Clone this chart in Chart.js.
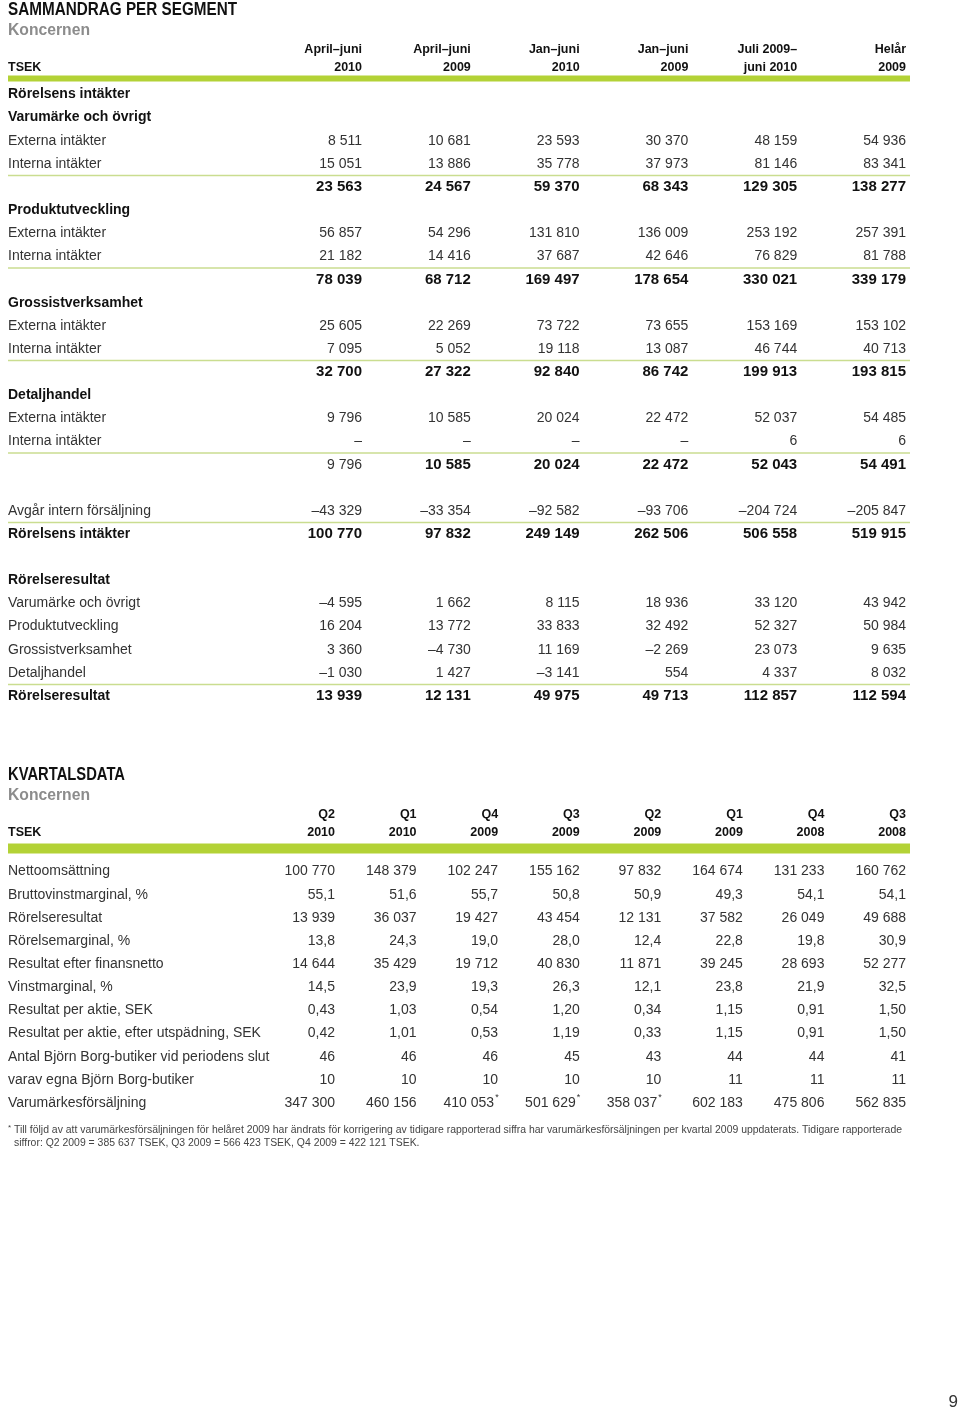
<!DOCTYPE html>
<html>
<head>
<meta charset="utf-8">
<script src="https://cdn.jsdelivr.net/npm/chart.js@4.4.1/dist/chart.umd.min.js"></script>
<style>
  html, body { margin: 0; padding: 0; background: #fff; }
  #page { position: relative; width: 960px; height: 1412px; }
  canvas { position: absolute; left: 0; }
  #segment { top: 0; }
  #quarter { top: 760px; }
</style>
</head>
<body>
<div id="page">
  <canvas id="segment" width="960" height="740"></canvas>
  <canvas id="quarter" width="960" height="652"></canvas>
</div>
<script>
const FONT = "'Liberation Sans', Arial, sans-serif";

// --- Sammandrag per segment ---
const segColumns = [['April–juni', '2010'], ['April–juni', '2009'], ['Jan–juni', '2010'], ['Jan–juni', '2009'], ['Juli 2009–', 'juni 2010'], ['Helår', '2009']];

const varExt = [8511, 10681, 23593, 30370, 48159, 54936];
const varInt = [15051, 13886, 35778, 37973, 81146, 83341];
const varTot = [23563, 24567, 59370, 68343, 129305, 138277];
const prodExt = [56857, 54296, 131810, 136009, 253192, 257391];
const prodInt = [21182, 14416, 37687, 42646, 76829, 81788];
const prodTot = [78039, 68712, 169497, 178654, 330021, 339179];
const grosExt = [25605, 22269, 73722, 73655, 153169, 153102];
const grosInt = [7095, 5052, 19118, 13087, 46744, 40713];
const grosTot = [32700, 27322, 92840, 86742, 199913, 193815];
const detExt = [9796, 10585, 20024, 22472, 52037, 54485];
const detInt = [null, null, null, null, 6, 6];
const detTot = [9796, 10585, 20024, 22472, 52043, 54491];
const avgarIntern = [-43329, -33354, -92582, -93706, -204724, -205847];
const rorelsensIntakter = [100770, 97832, 249149, 262506, 506558, 519915];
const resVar = [-4595, 1662, 8115, 18936, 33120, 43942];
const resProd = [16204, 13772, 33833, 32492, 52327, 50984];
const resGros = [3360, -4730, 11169, -2269, 23073, 9635];
const resDet = [-1030, 1427, -3141, 554, 4337, 8032];
const resTot = [13939, 12131, 49975, 49713, 112857, 112594];

const segRowLabels = [
  'Rörelsens intäkter', 'Varumärke och övrigt', 'Externa intäkter', 'Interna intäkter', '',
  'Produktutveckling', 'Externa intäkter', 'Interna intäkter', '',
  'Grossistverksamhet', 'Externa intäkter', 'Interna intäkter', '',
  'Detaljhandel', 'Externa intäkter', 'Interna intäkter', '', '',
  'Avgår intern försäljning', 'Rörelsens intäkter', '',
  'Rörelseresultat', 'Varumärke och övrigt', 'Produktutveckling', 'Grossistverksamhet', 'Detaljhandel', 'Rörelseresultat'
];
const segRowValues = [
  null, null, varExt, varInt, varTot,
  null, prodExt, prodInt, prodTot,
  null, grosExt, grosInt, grosTot,
  null, detExt, detInt, detTot, null,
  avgarIntern, rorelsensIntakter, null,
  null, resVar, resProd, resGros, resDet, resTot
];

// --- Kvartalsdata ---
const qColumns = [['Q2', '2010'], ['Q1', '2010'], ['Q4', '2009'], ['Q3', '2009'], ['Q2', '2009'], ['Q1', '2009'], ['Q4', '2008'], ['Q3', '2008']];

const netto = [100770, 148379, 102247, 155162, 97832, 164674, 131233, 160762];
const bruttoMarg = [55.1, 51.6, 55.7, 50.8, 50.9, 49.3, 54.1, 54.1];
const rorRes = [13939, 36037, 19427, 43454, 12131, 37582, 26049, 49688];
const rorMarg = [13.8, 24.3, 19.0, 28.0, 12.4, 22.8, 19.8, 30.9];
const resFinans = [14644, 35429, 19712, 40830, 11871, 39245, 28693, 52277];
const vinstMarg = [14.5, 23.9, 19.3, 26.3, 12.1, 23.8, 21.9, 32.5];
const eps = [0.43, 1.03, 0.54, 1.20, 0.34, 1.15, 0.91, 1.50];
const epsDil = [0.42, 1.01, 0.53, 1.19, 0.33, 1.15, 0.91, 1.50];
const butiker = [46, 46, 46, 45, 43, 44, 44, 41];
const egnaButiker = [10, 10, 10, 10, 10, 11, 11, 11];
const varumarkesFs = [347300, 460156, 410053, 501629, 358037, 602183, 475806, 562835];
const varumarkesFsNote = [false, false, true, true, true, false, false, false];

const qRowLabels = [
  'Nettoomsättning', 'Bruttovinstmarginal, %', 'Rörelseresultat', 'Rörelsemarginal, %',
  'Resultat efter finansnetto', 'Vinstmarginal, %', 'Resultat per aktie, SEK',
  'Resultat per aktie, efter utspädning, SEK', 'Antal Björn Borg-butiker vid periodens slut',
  'varav egna Björn Borg-butiker', 'Varumärkesförsäljning'
];
const qRowValues = [netto, bruttoMarg, rorRes, rorMarg, resFinans, vinstMarg, eps, epsDil, butiker, egnaButiker, varumarkesFs];
const qRowDecimals = [0, 1, 0, 1, 0, 1, 2, 2, 0, 0, 0];

const footnote = [
  'Till följd av att varumärkesförsäljningen för helåret 2009 har ändrats för korrigering av tidigare rapporterad siffra har varumärkesförsäljningen per kvartal 2009 uppdaterats. Tidigare rapporterade',
  'siffror: Q2 2009 = 385 637 TSEK, Q3 2009 = 566 423 TSEK, Q4 2009 = 422 121 TSEK.'
];

function fmt(v, dec) {
  if (v === null || v === undefined) return '–';
  const parts = Math.abs(v).toFixed(dec).split('.');
  const whole = parts[0].replace(/\B(?=(\d{3})+(?!\d))/g, ' ');
  return (v < 0 ? '–' : '') + whole + (parts[1] ? ',' + parts[1] : '');
}

function drawFitted(ctx, text, x, y, font, color, width) {
  ctx.save();
  ctx.font = font;
  ctx.fillStyle = color;
  ctx.textAlign = 'left';
  ctx.textBaseline = 'middle';
  const w = ctx.measureText(text).width;
  ctx.translate(x, y);
  ctx.scale(Math.min(1, width / w), 1);
  ctx.fillText(text, 0, 0);
  ctx.restore();
}

const tablePlugin = {
  id: 'table',
  afterDraw(chart, args, opts) {
    const { ctx, chartArea } = chart;
    const xs = chart.scales.x, ys = chart.scales.y;
    const left = 8, right = 910;
    ctx.save();

    drawFitted(ctx, opts.title, left, opts.titleY, `bold 18px ${FONT}`, '#111', opts.titleWidth);
    drawFitted(ctx, 'Koncernen', left, opts.titleY + 19.5, `bold 17px ${FONT}`, '#8c8c8c', 82);

    const headY = xs.bottom - xs.options.ticks.padding - 9;
    ctx.font = `bold 12.5px ${FONT}`;
    ctx.fillStyle = '#111';
    ctx.textAlign = 'left';
    ctx.textBaseline = 'middle';
    ctx.fillText('TSEK', left, headY);

    ctx.fillStyle = '#b3d236';
    ctx.fillRect(left, chartArea.top - opts.barOffset, right - left, opts.barHeight);

    ctx.strokeStyle = '#cadd90';
    ctx.lineWidth = 1.5;
    opts.rules.forEach(r => {
      const yy = (ys.getPixelForValue(r) + ys.getPixelForValue(r + 1)) / 2;
      ctx.beginPath();
      ctx.moveTo(left, yy);
      ctx.lineTo(right, yy);
      ctx.stroke();
    });

    opts.values.forEach((row, r) => {
      if (!row) return;
      const py = ys.getPixelForValue(r);
      const dec = opts.decimals ? opts.decimals[r] : 0;
      row.forEach((v, c) => {
        const px = xs.getPixelForValue(c);
        const bold = opts.boldRows.includes(r) && !(opts.regularCell && opts.regularCell[0] === r && opts.regularCell[1] === c);
        ctx.font = bold ? `bold 15px ${FONT}` : `14px ${FONT}`;
        ctx.fillStyle = bold ? '#111' : '#333';
        const marked = opts.notes && opts.notes[r] && opts.notes[r][c];
        ctx.textAlign = 'right';
        ctx.fillText(fmt(v, dec), marked ? px - 4 : px, py);
        if (marked) {
          ctx.font = `9px ${FONT}`;
          ctx.textAlign = 'left';
          ctx.fillText('*', px - 3, py - 5);
        }
      });
    });

    if (opts.footnote) {
      ctx.font = `10px ${FONT}`;
      ctx.fillStyle = '#444';
      ctx.textAlign = 'left';
      ctx.textBaseline = 'middle';
      const s = 888 / ctx.measureText(opts.footnote[0]).width;
      ctx.font = `8px ${FONT}`;
      ctx.fillText('*', left, opts.footY - 2);
      ctx.font = `10px ${FONT}`;
      opts.footnote.forEach((line, i) => {
        ctx.save();
        ctx.translate(14, opts.footY + i * 13);
        ctx.scale(s, 1);
        ctx.fillText(line, 0, 0);
        ctx.restore();
      });
      ctx.font = `17px ${FONT}`;
      ctx.fillStyle = '#333';
      ctx.textAlign = 'right';
      ctx.fillText('9', 958, opts.pageY);
    }
    ctx.restore();
  }
};

function makeTable(id, columns, rowLabels, boldLabelRows, cfg) {
  return new Chart(document.getElementById(id), {
    type: 'line',
    data: { datasets: [] },
    options: {
      responsive: false,
      animation: false,
      events: [],
      layout: { autoPadding: false, padding: cfg.padding },
      plugins: {
        legend: { display: false },
        tooltip: { enabled: false },
        table: cfg.table
      },
      scales: {
        x: {
          type: 'category',
          position: 'top',
          labels: columns,
          offset: false,
          grid: { display: false, drawTicks: false },
          border: { display: false },
          ticks: {
            autoSkip: false,
            maxRotation: 0,
            minRotation: 0,
            align: 'end',
            padding: cfg.headPadding,
            color: '#111',
            font: { family: FONT, size: 12.5, weight: 'bold', lineHeight: 18 / 12.5 }
          },
          afterFit: s => { s.height = cfg.headHeight; }
        },
        y: {
          type: 'category',
          position: 'left',
          labels: rowLabels,
          offset: false,
          grid: { display: false, drawTicks: false },
          border: { display: false },
          ticks: {
            autoSkip: false,
            crossAlign: 'far',
            color: c => boldLabelRows.includes(c.index) ? '#111' : '#333',
            font: c => ({ family: FONT, size: 14, weight: boldLabelRows.includes(c.index) ? 'bold' : 'normal' })
          },
          afterFit: s => { s.width = cfg.labelWidth; }
        }
      }
    },
    plugins: [tablePlugin]
  });
}

makeTable('segment', segColumns, segRowLabels, [0, 1, 5, 9, 13, 19, 21, 26], {
  padding: { top: 41, left: 8, right: 54, bottom: 44 },
  headHeight: 53.5,
  headPadding: 18,
  labelWidth: 354,
  table: {
    title: 'SAMMANDRAG PER SEGMENT',
    titleWidth: 229,
    titleY: 10.5,
    values: segRowValues,
    boldRows: [4, 8, 12, 16, 19, 26],
    regularCell: [16, 0],
    rules: [3, 7, 11, 15, 18, 25],
    barOffset: 19,
    barHeight: 6
  }
});

makeTable('quarter', qColumns, qRowLabels, [], {
  padding: { top: 46, left: 8, right: 54, bottom: 309 },
  headHeight: 65.5,
  headPadding: 30,
  labelWidth: 327,
  table: {
    title: 'KVARTALSDATA',
    titleWidth: 117,
    titleY: 15.5,
    values: qRowValues,
    decimals: qRowDecimals,
    boldRows: [],
    notes: { 10: varumarkesFsNote },
    rules: [],
    barOffset: 28,
    barHeight: 10,
    footnote: footnote,
    footY: 370,
    pageY: 642
  }
});
</script>
</body>
</html>
